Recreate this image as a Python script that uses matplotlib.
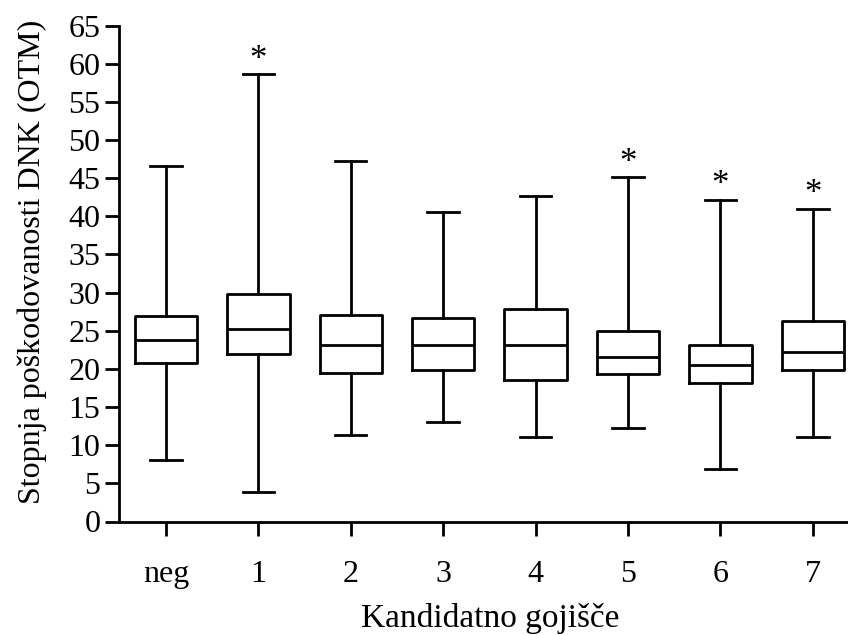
import matplotlib
matplotlib.use("Agg")
import matplotlib.pyplot as plt

categories = ["neg", "1", "2", "3", "4", "5", "6", "7"]
whisker_low = [8.0, 3.9, 11.4, 13.0, 11.1, 12.3, 6.9, 11.1]
q1 = [20.8, 21.9, 19.4, 19.9, 18.6, 19.3, 18.2, 19.9]
median = [23.8, 25.2, 23.1, 23.2, 23.1, 21.6, 20.5, 22.2]
q3 = [26.9, 29.8, 27.1, 26.7, 27.8, 25.0, 23.1, 26.3]
whisker_high = [46.6, 58.6, 47.3, 40.6, 42.7, 45.1, 42.2, 41.0]
significant = [False, True, False, False, False, True, True, True]

plt.rcParams["font.family"] = ["Liberation Serif", "DejaVu Serif"]

fig = plt.figure(figsize=(8.48, 6.35), dpi=100)
ax = fig.add_axes([119.3 / 848, 1 - 521.5 / 635, 1 - 119.3 / 848, (521.5 - 25.6) / 635])

stats = []
for i, name in enumerate(categories):
    stats.append(dict(label=name, whislo=whisker_low[i], q1=q1[i], med=median[i],
                      q3=q3[i], whishi=whisker_high[i], fliers=[]))

positions = list(range(len(categories)))
lw = 2.0
ax.bxp(stats, positions=positions, widths=0.675, capwidths=0.34, showfliers=False,
       boxprops=dict(color="black", linewidth=lw),
       whiskerprops=dict(color="black", linewidth=lw),
       capprops=dict(color="black", linewidth=lw),
       medianprops=dict(color="black", linewidth=lw))

for i, sig in enumerate(significant):
    if sig:
        ax.annotate("*", xy=(positions[i], whisker_high[i]), xytext=(0, 4),
                    textcoords="offset points", ha="center", va="baseline", fontsize=25)

ax.set_xlim(-0.505, 7.381)
ax.set_ylim(0, 65)
ax.set_yticks(range(0, 66, 5))
ax.set_xticks(positions)
ax.set_xticklabels(categories)

for s in ["top", "right"]:
    ax.spines[s].set_visible(False)
for s in ["left", "bottom"]:
    ax.spines[s].set_linewidth(2.0)

ax.tick_params(axis="y", direction="out", length=10, width=2.0, pad=3.5, labelsize=23)
ax.tick_params(axis="x", direction="out", length=10, width=2.0, pad=17.5, labelsize=23)

fig.text(32 / 848, 1 - 262 / 635, "Stopnja poškodovanosti DNK (OTM)", rotation=90,
         ha="center", va="center", fontsize=23)
fig.text(490 / 848, 1 - 627 / 635, "Kandidatno gojišče", ha="center", va="baseline",
         fontsize=24)

fig.savefig("out.png", dpi=100)
